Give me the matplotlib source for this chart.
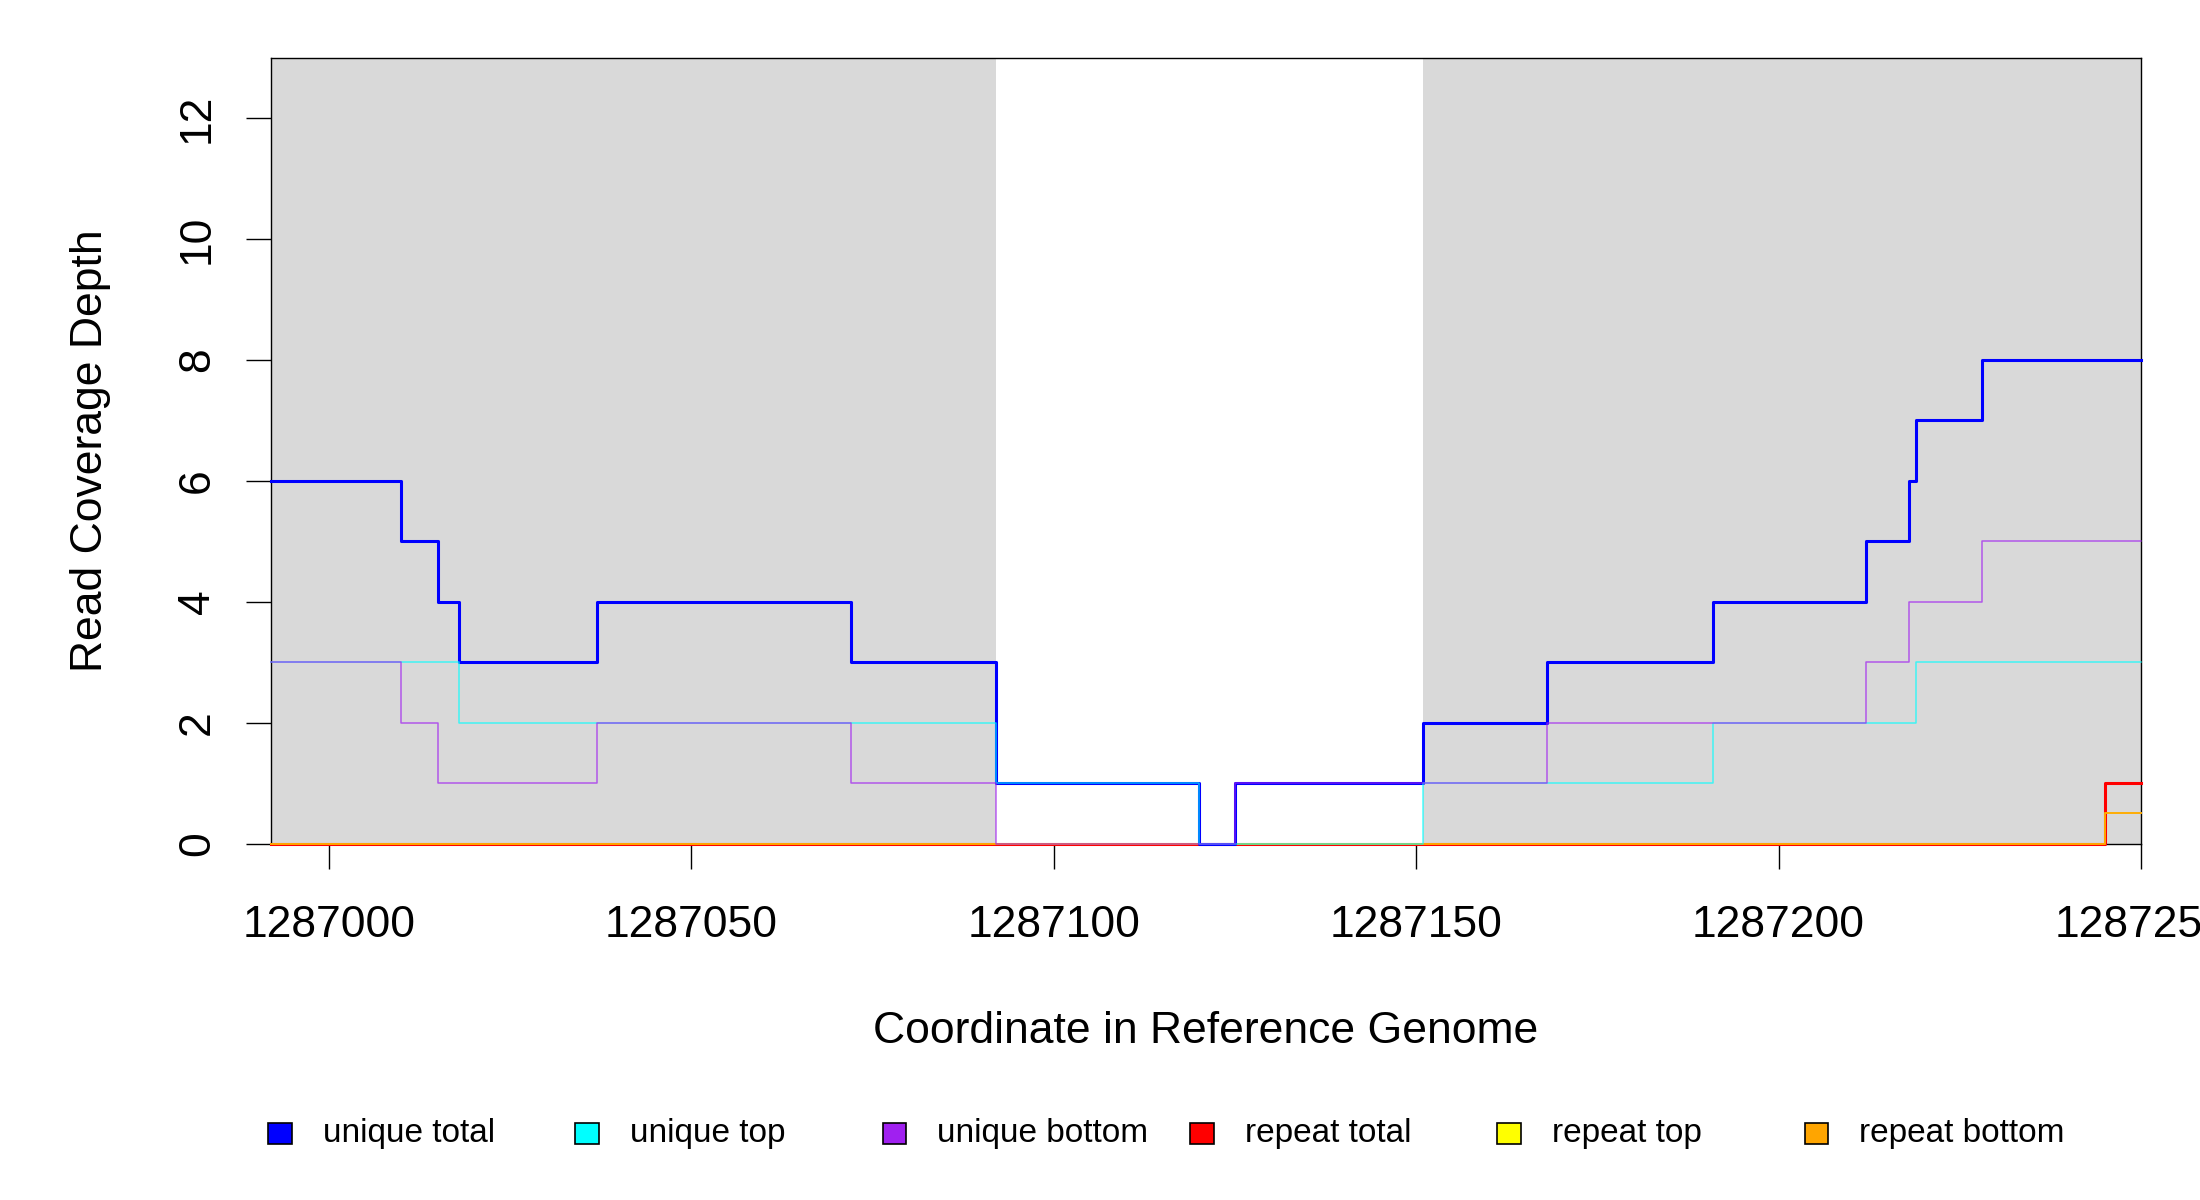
import matplotlib
matplotlib.use("Agg")
import matplotlib.pyplot as plt
from matplotlib.patches import Rectangle

plt.rcParams['font.family'] = ['Liberation Sans', 'DejaVu Sans']

# ---- data ----
x_start, x_end = 1286992, 1287250
masked_regions = [(1286992, 1287092), (1287151, 1287250)]

unique_total_x = [1286992, 1287010, 1287015, 1287018, 1287037, 1287072, 1287092, 1287120,
                  1287125, 1287151, 1287168, 1287191, 1287212, 1287218, 1287219, 1287228, 1287250]
unique_total_y = [6, 5, 4, 3, 4, 3, 1, 0, 1, 2, 3, 4, 5, 6, 7, 8, 8]

unique_top_x = [1286992, 1287018, 1287092, 1287120, 1287151, 1287191, 1287219, 1287250]
unique_top_y = [3, 2, 1, 0, 1, 2, 3, 3]

unique_bottom_x = [1286992, 1287010, 1287015, 1287037, 1287072, 1287092, 1287125,
                   1287168, 1287212, 1287218, 1287228, 1287250]
unique_bottom_y = [3, 2, 1, 2, 1, 0, 1, 2, 3, 4, 5, 5]

repeat_total_x = [1286992, 1287245, 1287250]
repeat_total_y = [0, 1, 1]
repeat_top_x = [1286992, 1287245, 1287250]
repeat_top_y = [0, 0.5, 0.5]
repeat_bottom_x = [1286992, 1287245, 1287250]
repeat_bottom_y = [0, 0.5, 0.5]

legend_labels = ["unique total", "unique top", "unique bottom",
                 "repeat total", "repeat top", "repeat bottom"]
legend_colors = ["#0000FF", "#00FFFF", "#A020F0", "#FF0000", "#FFFF00", "#FFA500"]

x_ticks = [1287000, 1287050, 1287100, 1287150, 1287200, 1287250]
y_ticks = [0, 2, 4, 6, 8, 10, 12]

# ---- figure ----
fig = plt.figure(figsize=(22, 12), dpi=100)
ax = fig.add_axes([0.1231, 0.297, 0.9732 - 0.1231, 0.952 - 0.297])

for a, b in masked_regions:
    ax.axvspan(a, b, color="#D9D9D9", lw=0, zorder=0)

# repeats first, then uniques (semi-transparent thin lines)
series = [
    (repeat_total_x, repeat_total_y, "#FF0000", 2.2, 1.0, 2),
    (repeat_top_x, repeat_top_y, "#FFFF00", 1.1, 0.8, 2),
    (repeat_bottom_x, repeat_bottom_y, "#FFA500", 1.4, 0.9, 2),
    (unique_total_x, unique_total_y, "#0000FF", 2.2, 1.0, 3),
    (unique_top_x, unique_top_y, "#00FFFF", 1.1, 0.7, 3),
    (unique_bottom_x, unique_bottom_y, "#A020F0", 1.1, 0.7, 3),
]
for xs, ys, col, lw, al, z in series:
    ax.step(xs, ys, where='post', color=col, lw=lw, alpha=al, zorder=z, clip_on=False)

ax.set_xlim(x_start, x_end)
ax.set_ylim(0, 13)
ax.set_xticks(x_ticks)
ax.set_xticklabels([str(t) for t in x_ticks])
ax.set_yticks(y_ticks)
ax.set_yticklabels([str(t) for t in y_ticks], rotation=90, va='center')
ax.tick_params(axis='both', direction='out', length=18, width=1.0, labelsize=32, colors='black')
ax.tick_params(axis='x', pad=26)
ax.tick_params(axis='y', pad=20)
for s in ax.spines.values():
    s.set_linewidth(1.0)
    s.set_color('black')
    s.set_zorder(1.5)

ax.set_xlabel("Coordinate in Reference Genome", fontsize=32, va='center')
ax.xaxis.set_label_coords(0.5, -0.239)
ax.set_ylabel("Read Coverage Depth", fontsize=32, va='center')
ax.yaxis.set_label_coords(-0.0965, 0.5)

# ---- legend (manually laid out in a row) ----
sq_left0 = 0.1218
step = 0.1397
for i, (lab, col) in enumerate(zip(legend_labels, legend_colors)):
    x0 = sq_left0 + i * step
    fig.patches.append(Rectangle((x0, 0.0465), 0.0108, 0.0175, transform=fig.transFigure,
                                 facecolor=col, edgecolor='black', lw=1.2))
    fig.text(x0 + 0.0249, 0.0552, lab, fontsize=24, va='center', ha='left')

fig.savefig("out.png", dpi=100)
